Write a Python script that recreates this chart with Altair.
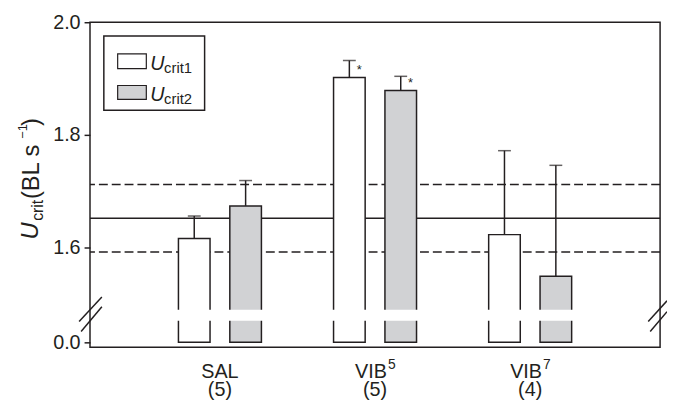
import altair as alt
import pandas as pd

# ---------------- data ----------------
groups = ["SAL", "VIB5", "VIB7"]
group_main = ["SAL", "VIB", "VIB"]
group_sup = ["", "5", "7"]
group_n = ["(5)", "(5)", "(4)"]
series = ["Ucrit1", "Ucrit2"]
means = [1.616, 1.674, 1.902, 1.879, 1.623, 1.549]      # BL s-1
errors = [0.040, 0.045, 0.030, 0.025, 0.149, 0.197]     # upper error
significant = [False, False, True, True, False, False]
control_mean = 1.652
control_ci = 0.060
axis_zero = 1.432          # value position where the broken axis shows "0.0"
break_lo, break_hi = 1.470, 1.4895
y_ticks = [1.432, 1.6, 1.8, 2.0]

INK = "#231f20"
GRAY = "#d1d2d4"
FONT = "Liberation Sans"

rows = []
for i, g in enumerate(groups):
    for j, s in enumerate(series):
        k = i * 2 + j
        rows.append(dict(group=g, series=s, mean=means[k], top=means[k] + errors[k],
                         base=axis_zero, blo=break_lo, bhi=break_hi, sig=significant[k]))
df = pd.DataFrame(rows)

labels_df = pd.DataFrame({"group": groups, "main": group_main, "sup": group_sup, "n": group_n})
labels_df["has_sup"] = labels_df["sup"] != ""

lines_df = pd.DataFrame({
    "y": [control_mean - control_ci, control_mean, control_mean + control_ci],
    "kind": ["dash", "solid", "dash"],
})

yscale = alt.Scale(domain=[1.423, 2.0], nice=False, zero=False)
yaxis = alt.Axis(values=y_ticks,
                 labelExpr="datum.value < 1.5 ? '0.0' : format(datum.value, '.1f')",
                 grid=False, domain=False, ticks=True, tickSize=6, tickWidth=1.5,
                 tickColor=INK, labelPadding=4, labelFontSize=20, labelFont=FONT,
                 labelColor=INK)


def Y(field):
    return alt.Y(field, type="quantitative", scale=yscale, axis=yaxis, title=None)


xscale = alt.Scale(domain=groups, paddingInner=0, paddingOuter=0.3376)
xenc = alt.X("group:N", scale=xscale, axis=None, title=None)
xoff = alt.XOffset("series:N", scale=alt.Scale(domain=series, paddingInner=0.385,
                                               paddingOuter=0.702))

base = alt.Chart(df)

hlines = alt.Chart(lines_df).mark_rule(color=INK, strokeWidth=1.5).encode(
    y=Y("y"),
    strokeDash=alt.StrokeDash("kind:N", scale=alt.Scale(domain=["solid", "dash"],
                                                       range=[[1, 0], [9, 4]]), legend=None),
)

err_rule = base.mark_rule(color=INK, strokeWidth=1.5).encode(
    x=xenc, xOffset=xoff, y=Y("mean"), y2="top")
err_cap = base.mark_tick(color=INK, size=13, thickness=1.5).encode(
    x=xenc, xOffset=xoff, y=Y("top"))

bars = base.mark_bar(stroke=INK, strokeWidth=1.5).encode(
    x=xenc, xOffset=xoff, y=Y("mean"), y2="base",
    fill=alt.Fill("series:N", scale=alt.Scale(domain=series, range=["#ffffff", GRAY]),
                  legend=None),
)

gaps = base.mark_bar(color="white", width=38).encode(
    x=xenc, xOffset=xoff, y=Y("bhi"), y2="blo")

stars = base.transform_filter("datum.sig").mark_text(
    text="*", dx=10, dy=-7, baseline="middle", fontSize=13, font=FONT, color=INK).encode(
    x=xenc, xOffset=xoff, y=Y("mean"))

# category labels (drawn as text through the x scale)
lab = alt.Chart(labels_df)
lab_plain = lab.transform_filter("!datum.has_sup").mark_text(
    align="center", baseline="alphabetic", fontSize=20, font=FONT, color=INK).encode(
    x=xenc, y=alt.value(360), text="main:N")
lab_main = lab.transform_filter("datum.has_sup").mark_text(
    align="right", baseline="alphabetic", fontSize=20, font=FONT, color=INK, dx=12).encode(
    x=xenc, y=alt.value(360), text="main:N")
lab_sup = lab.transform_filter("datum.has_sup").mark_text(
    align="left", baseline="alphabetic", fontSize=14, font=FONT, color=INK, dx=13).encode(
    x=xenc, y=alt.value(351), text="sup:N")
lab_n = lab.mark_text(
    align="center", baseline="alphabetic", fontSize=20, font=FONT, color=INK).encode(
    x=xenc, y=alt.value(378), text="n:N")

one = alt.Data(values=[{}])


def rule(x1, y1, x2, y2):
    return alt.Chart(one).mark_rule(color=INK, strokeWidth=1.5).encode(
        x=alt.value(x1), y=alt.value(y1), x2=alt.value(x2), y2=alt.value(y2))


breaks = [rule(-11, 303, 12, 278), rule(-9, 313, 12, 288),
          rule(565, 303, 584, 282), rule(567, 313, 584, 293)]


def txt(t, x, y, size, angle=0, italic=False):
    return alt.Chart(one).mark_text(
        text=t, align="left", baseline="alphabetic", fontSize=size, font=FONT,
        fontStyle="italic" if italic else "normal", angle=angle, color=INK).encode(
        x=alt.value(x), y=alt.value(y))


# legend box
legend_box = alt.Chart(one).mark_rect(fill="white", stroke=INK, strokeWidth=1.5).encode(
    x=alt.value(14), x2=alt.value(116), y=alt.value(14), y2=alt.value(89))
sw1 = alt.Chart(one).mark_rect(fill="white", stroke=INK, strokeWidth=1.2).encode(
    x=alt.value(28), x2=alt.value(57), y=alt.value(32), y2=alt.value(47))
sw2 = alt.Chart(one).mark_rect(fill=GRAY, stroke=INK, strokeWidth=1.2).encode(
    x=alt.value(28), x2=alt.value(57), y=alt.value(64), y2=alt.value(78))
legend = [legend_box, sw1, sw2,
          txt("U", 61, 48, 20, italic=True), txt("crit1", 75, 51, 15),
          txt("U", 61, 80, 20, italic=True), txt("crit2", 75, 83, 15)]

# y title  U_crit (BL s^-1)
ytitle = [txt("U", -53, 220, 24, angle=270, italic=True),
          txt("crit", -48, 201, 16, angle=270),
          txt("(BL s", -52, 179, 24, angle=270),
          txt("−1", -64, 118, 13, angle=270),
          txt(")", -52, 105, 24, angle=270)]

# plot frame
frame = alt.Chart(one).mark_rect(fill="transparent", stroke=INK, strokeWidth=1.5).encode(
    x=alt.value(0), x2=alt.value(577), y=alt.value(0), y2=alt.value(329))

chart = alt.layer(hlines, bars, gaps, err_rule, err_cap, stars, frame, *breaks,
                  lab_plain, lab_main, lab_sup, lab_n, *legend, *ytitle).properties(
    width=577, height=329,
    background="white",
    autosize=alt.AutoSizeParams(type="none"),
    padding={"left": 83, "top": 12, "right": 7, "bottom": 56},
).configure_view(strokeWidth=0)

chart.save("out.html", embed_options={"renderer": "svg", "actions": False})
